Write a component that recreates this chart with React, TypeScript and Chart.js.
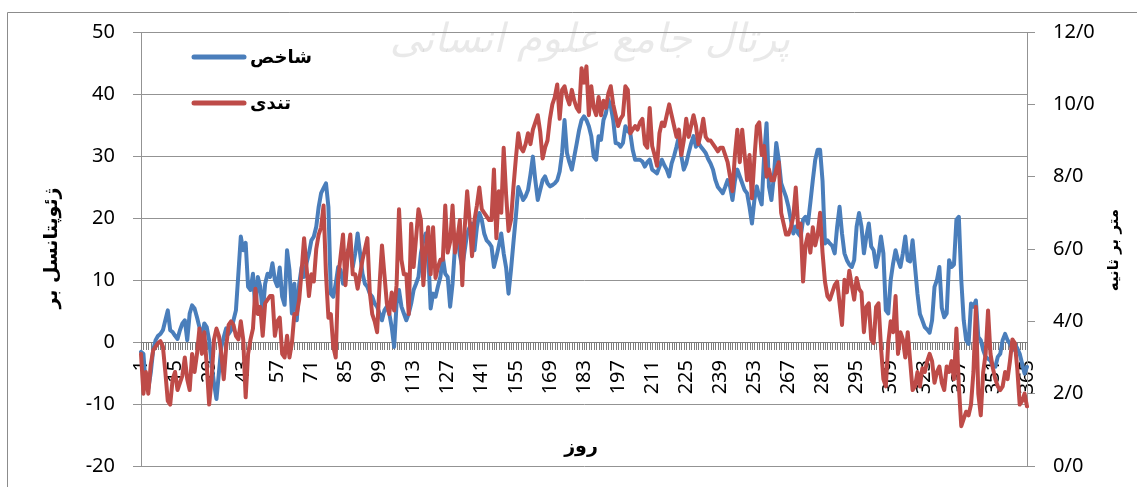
import React, { useEffect, useRef } from 'react';
import { Chart, registerables } from 'chart.js';

Chart.register(...registerables);

const W = 1137;
const H = 487;
const BLUE = '#4a7ebb';
const RED = '#be4b48';

// Category: day of year
const dayLabels: string[] = Array.from({ length: 365 }, (_, i) => String(i + 1));
// Tick labels shown on the day axis
const shownDays = [1, 15, 29, 43, 57, 71, 85, 99, 113, 127, 141, 155, 169, 183, 197, 211, 225, 239, 253, 267, 281, 295, 309, 323, 337, 351, 365];

// Series 1: شاخص (left axis)
const indexValues = [
  -1.6, -1.9, -7.3, -7.5, -5.0, -1.3, 0.3, 1.0, 1.3, 1.9,
  3.5, 5.1, 1.9, 1.6, 1.0, 0.5, 1.9, 3.0, 3.5, 0.3,
  4.6, 5.9, 5.4, 4.0, 2.4, 0.5, 3.0, 2.4, 0.3, -3.5,
  -6.7, -9.2, -5.0, -0.8, 0.8, 2.2, 1.3, 1.9, 3.5, 5.1,
  11.0, 17.0, 14.8, 16.0, 8.9, 8.4, 11.0, 5.1, 10.5, 8.9,
  4.6, 9.4, 11.0, 10.5, 12.7, 10.0, 9.0, 12.0, 7.3, 6.0,
  14.8, 11.6, 4.6, 9.4, 3.5, 9.4, 12.1, 10.5, 12.7, 14.3,
  16.4, 17.0, 18.6, 21.8, 24.0, 24.8, 25.6, 21.8, 7.8, 7.3,
  9.4, 12.1, 11.6, 9.4, 11.0, 14.8, 15.4, 12.1, 14.3, 17.5,
  14.3, 11.0, 9.4, 8.9, 7.8, 7.3, 6.2, 5.7, 4.6, 3.5,
  5.1, 5.7, 4.6, 2.4, -0.8, 6.2, 8.4, 5.7, 4.6, 3.5,
  4.6, 6.2, 8.4, 9.4, 10.5, 14.3, 16.4, 17.5, 14.3, 5.4,
  7.8, 7.3, 9.0, 10.5, 13.7, 11.0, 10.5, 5.7, 9.4, 15.4,
  17.0, 14.0, 12.1, 14.8, 17.5, 18.5, 19.1, 14.8, 18.5, 20.8,
  19.7, 17.5, 16.4, 16.0, 15.4, 12.1, 13.7, 15.5, 17.5, 14.3,
  12.0, 7.8, 11.6, 16.0, 20.2, 25.0, 24.0, 22.9, 23.5, 24.5,
  27.0, 29.9, 26.1, 22.9, 24.5, 26.1, 26.7, 25.6, 25.1, 25.3,
  25.6, 26.1, 27.5, 30.5, 35.8, 30.5, 29.0, 27.8, 29.9, 32.0,
  34.2, 35.8, 36.4, 35.8, 34.8, 33.2, 29.9, 29.4, 33.2, 32.6,
  35.8, 36.9, 39.1, 38.0, 35.8, 32.1, 32.0, 31.5, 32.1, 34.8,
  34.0, 33.7, 31.0, 29.4, 29.4, 29.4, 29.1, 28.3, 29.0, 29.4,
  27.8, 27.5, 27.2, 28.3, 29.4, 28.5, 27.8, 26.7, 28.8, 30.0,
  31.5, 33.2, 30.0, 27.8, 28.8, 30.5, 32.0, 33.2, 31.5, 32.1,
  31.5, 31.0, 30.5, 29.5, 28.8, 27.8, 26.1, 25.0, 24.5, 24.0,
  25.0, 26.1, 25.1, 22.9, 26.0, 27.8, 26.7, 25.6, 24.5, 24.0,
  21.8, 19.1, 22.9, 25.1, 23.4, 22.2, 30.0, 35.3, 25.0, 22.9,
  26.7, 32.1, 29.4, 25.6, 24.5, 23.4, 21.8, 19.7, 17.5, 18.6,
  17.5, 17.0, 19.7, 20.2, 19.1, 22.5, 26.1, 29.4, 31.0, 31.0,
  26.0, 15.9, 16.4, 15.9, 15.5, 14.3, 18.6, 21.8, 17.5, 14.3,
  13.2, 12.5, 12.1, 13.2, 18.6, 20.8, 18.6, 14.3, 17.0, 19.1,
  15.4, 14.8, 12.1, 14.0, 17.0, 14.3, 5.1, 4.6, 10.0, 12.7,
  14.8, 13.2, 12.1, 14.3, 17.0, 13.2, 13.0, 16.4, 12.1, 7.8,
  4.5, 3.5, 2.4, 2.0, 1.5, 3.5, 8.9, 10.0, 12.1, 5.5,
  4.0, 4.6, 13.2, 12.1, 12.5, 19.7, 20.2, 10.0, 3.5, 0.3,
  -0.3, 6.2, 5.7, 6.7, 0.8, 0.3, -1.3, -2.4, -2.7, -3.0,
  -4.0, -4.0, -2.4, -1.9, 0.3, 1.3, 0.3, -0.3, -1.3, -0.3,
  -1.0, -1.9, -3.5, -5.1, -4.0,
];

// Series 2: تندی (right axis, m/s)
const speedValues = [
  3.1, 2.0, 2.6, 2.0, 2.8, 3.2, 3.3, 3.4, 3.45, 3.3,
  2.6, 1.8, 1.7, 2.4, 2.6, 2.1, 2.3, 2.5, 3.0, 2.4,
  2.1, 3.1, 2.6, 3.1, 3.8, 3.1, 3.7, 2.8, 1.7, 2.4,
  3.5, 3.8, 3.6, 3.1, 2.4, 3.3, 3.9, 4.0, 3.9, 3.6,
  3.5, 4.0, 3.5, 1.9, 3.1, 3.5, 3.8, 4.9, 4.2, 4.4,
  3.6, 4.5, 4.6, 4.7, 4.7, 3.6, 4.0, 4.1, 3.1, 3.0,
  3.6, 3.0, 3.4, 4.2, 4.2, 4.6, 5.4, 6.3, 5.5, 4.7,
  5.3, 5.1, 6.0, 6.4, 6.6, 7.2, 5.3, 4.1, 4.2, 3.3,
  3.0, 5.2, 5.8, 6.4, 5.0, 5.9, 6.4, 5.3, 5.3, 4.9,
  5.3, 5.7, 6.0, 6.3, 4.8, 4.2, 4.0, 3.7, 5.0, 6.1,
  5.3, 4.5, 4.2, 4.8, 4.3, 5.0, 7.1, 5.7, 5.3, 5.3,
  4.2, 6.7, 5.5, 6.3, 7.1, 6.8, 5.0, 6.0, 6.6, 5.3,
  6.6, 5.2, 5.5, 5.7, 5.7, 7.2, 5.9, 6.2, 7.2, 5.9,
  6.3, 6.8, 5.0, 6.6, 7.6, 6.8, 5.8, 6.8, 7.2, 7.7,
  7.1, 7.0, 6.9, 6.8, 6.8, 8.2, 6.3, 7.6, 7.0, 8.8,
  7.5, 6.5, 6.8, 7.7, 8.5, 9.2, 8.8, 8.7, 8.9, 9.2,
  8.9, 9.3, 9.5, 9.7, 9.25, 8.5, 8.8, 9.0, 9.6, 10.0,
  10.2, 10.55, 9.6, 10.4, 10.5, 10.2, 10.0, 10.4, 10.1, 9.9,
  9.8, 11.0, 10.6, 11.05, 9.7, 10.5, 9.9, 9.7, 10.2, 9.7,
  10.1, 9.9, 10.3, 10.5, 10.0, 9.7, 9.4, 9.6, 9.7, 10.5,
  10.4, 9.2, 9.3, 9.4, 9.3, 9.5, 9.6, 8.9, 8.8, 9.9,
  8.85, 8.6, 8.3, 9.2, 9.5, 9.4, 9.7, 10.0, 9.7, 9.4,
  9.1, 9.3, 8.6, 9.0, 9.6, 9.1, 9.4, 9.7, 9.4, 8.9,
  9.2, 9.6, 9.1, 9.0, 9.0, 8.9, 8.8, 8.7, 8.8, 8.8,
  8.6, 8.4, 8.0, 7.6, 8.6, 9.3, 8.4, 9.3, 8.6, 7.9,
  8.6, 7.4, 8.5, 9.4, 9.5, 8.6, 8.85, 8.0, 8.2, 7.9,
  7.9, 8.2, 8.4, 7.0, 6.7, 6.4, 6.4, 6.6, 6.9, 7.7,
  6.6, 6.7, 5.1, 6.1, 6.4, 5.9, 6.6, 6.1, 6.4, 7.0,
  5.9, 5.1, 4.7, 4.6, 4.8, 5.0, 5.1, 4.5, 3.9, 5.15,
  4.8, 5.4, 5.0, 4.6, 5.2, 4.9, 4.8, 3.7, 4.4, 4.5,
  3.5, 3.4, 4.4, 4.5, 3.3, 2.4, 2.2, 3.4, 4.0, 3.7,
  4.7, 3.1, 3.7, 3.5, 3.0, 3.7, 2.9, 2.1, 2.2, 2.6,
  2.2, 2.7, 2.6, 2.9, 3.1, 2.9, 2.3, 2.6, 2.75, 2.3,
  2.1, 2.75, 2.6, 2.9, 2.4, 3.8, 2.2, 1.1, 1.3, 1.5,
  1.4, 1.7, 2.6, 4.4, 2.0, 1.4, 2.6, 3.1, 4.3, 3.1,
  2.7, 2.4, 2.2, 2.1, 2.2, 2.6, 2.4, 2.9, 3.5, 3.4,
  2.7, 1.7, 1.8, 2.0, 1.65,
];

const seriesNames = ['شاخص', 'تندی'];
const xTitle = 'روز';
const leftTitle = 'ژئوپتانسل بر';
const rightTitle = 'متر بر ثانیه';
const watermark = 'پرتال جامع علوم انسانی';

const TICK_FONT = '"Noto Sans", "DejaVu Sans", sans-serif';
const FA_FONT = '"DejaVu Sans", sans-serif';
const GRID = '#939393';
const HATCH_LEN = 8;

const decor = {
  id: 'decor',
  beforeDraw(chart: any) {
    const c = chart.ctx as CanvasRenderingContext2D;
    c.save();
    c.fillStyle = '#ffffff';
    c.fillRect(0, 0, W, H);
    // faint watermark
    c.fillStyle = 'rgba(120,120,120,0.16)';
    c.font = 'italic 40px ' + FA_FONT;
    c.textAlign = 'center';
    c.textBaseline = 'middle';
    c.fillText(watermark, 590, 42);
    // outer frame (left and top edges visible)
    c.strokeStyle = '#8c8c8c';
    c.lineWidth = 1;
    c.beginPath();
    c.moveTo(7.5, H);
    c.lineTo(7.5, 12.5);
    c.lineTo(W, 12.5);
    c.stroke();
    c.restore();
  },
  beforeDatasetsDraw(chart: any) {
    // daily tick marks of the day axis, placed by the x and y scales
    const c = chart.ctx as CanvasRenderingContext2D;
    const xs = chart.scales.x;
    const y0 = Math.round(chart.scales.y.getPixelForValue(0));
    c.save();
    c.strokeStyle = '#7d7d7d';
    c.lineWidth = 1;
    c.beginPath();
    for (let i = 0; i < dayLabels.length; i++) {
      const px = Math.round(xs.getPixelForValue(i)) + 0.5;
      c.moveTo(px, y0);
      c.lineTo(px, y0 + HATCH_LEN);
    }
    c.stroke();
    c.restore();
  },
  afterDraw(chart: any) {
    const c = chart.ctx as CanvasRenderingContext2D;
    c.save();
    // legend
    const items = [
      { y: 57, color: BLUE, text: seriesNames[0] },
      { y: 103, color: RED, text: seriesNames[1] },
    ];
    c.font = 'bold 18px ' + FA_FONT;
    c.textBaseline = 'middle';
    c.textAlign = 'left';
    for (const it of items) {
      c.strokeStyle = it.color;
      c.lineWidth = 5;
      c.lineCap = 'round';
      c.beginPath();
      c.moveTo(194, it.y);
      c.lineTo(244, it.y);
      c.stroke();
      c.fillStyle = '#000';
      c.fillText(it.text, 250, it.y + 1);
    }
    // x title
    c.font = 'bold 19px ' + FA_FONT;
    c.textAlign = 'center';
    c.fillText(xTitle, 581, 447);
    // left title
    c.save();
    c.translate(52, 248);
    c.rotate(-Math.PI / 2);
    c.font = 'bold 19px ' + FA_FONT;
    c.fillText(leftTitle, 0, 0);
    c.restore();
    // right title
    c.save();
    c.translate(1114, 250);
    c.rotate(-Math.PI / 2);
    c.font = 'bold 15px ' + FA_FONT;
    c.fillText(rightTitle, 0, 0);
    c.restore();
    c.restore();
  },
};

const noVerticalPadding = (s: any, width: number) => {
  s.width = width;
  s.paddingTop = 0;
  s.paddingBottom = 0;
};

export default function App() {
  const ref = useRef<HTMLCanvasElement>(null);
  useEffect(() => {
    const canvas = ref.current;
    if (!canvas) return;
    const chart = new Chart(canvas, {
      type: 'line',
      data: {
        labels: dayLabels,
        datasets: [
          {
            label: seriesNames[0],
            data: indexValues,
            borderColor: BLUE,
            backgroundColor: BLUE,
            borderWidth: 4,
            borderJoinStyle: 'round',
            borderCapStyle: 'round',
            pointRadius: 0,
            tension: 0,
            yAxisID: 'y',
            order: 1,
          },
          {
            label: seriesNames[1],
            data: speedValues,
            borderColor: RED,
            backgroundColor: RED,
            borderWidth: 4,
            borderJoinStyle: 'round',
            borderCapStyle: 'round',
            pointRadius: 0,
            tension: 0,
            yAxisID: 'y1',
            order: 0,
          },
        ],
      },
      options: {
        responsive: false,
        animation: false,
        devicePixelRatio: 1,
        layout: { padding: { top: 32, bottom: 21, left: 0, right: 0 } },
        plugins: { legend: { display: false }, tooltip: { enabled: false }, title: { display: false } },
        scales: {
          x: {
            type: 'category',
            position: { y: 0 } as any,
            offset: false,
            grid: { display: false, drawOnChartArea: false, drawTicks: false },
            border: { display: true, color: '#7a7a7a', width: 1 },
            ticks: {
              autoSkip: false,
              minRotation: 90,
              maxRotation: 90,
              padding: 18,
              color: '#000',
              font: { family: TICK_FONT, size: 20 },
              callback: (_v: any, i: number) => (shownDays.includes(i + 1) ? dayLabels[i] : ''),
            },
          },
          y: {
            position: 'left',
            min: -20,
            max: 50,
            grid: { color: GRID, lineWidth: 1, tickLength: 8, drawTicks: true },
            border: { display: true, color: GRID, width: 1 },
            ticks: { stepSize: 10, padding: 18, color: '#000', font: { family: TICK_FONT, size: 20 } },
            afterFit: (s: any) => noVerticalPadding(s, 141),
          },
          y1: {
            position: 'right',
            min: 0,
            max: 12,
            grid: { drawOnChartArea: false, color: GRID, tickLength: 8, drawTicks: true },
            border: { display: true, color: GRID, width: 1 },
            ticks: {
              stepSize: 2,
              padding: 18,
              color: '#000',
              font: { family: TICK_FONT, size: 20 },
              callback: (v: any) => Number(v).toFixed(1).replace('.', '/'),
            },
            afterFit: (s: any) => noVerticalPadding(s, 110),
          },
        },
      },
      plugins: [decor],
    });
    return () => chart.destroy();
  }, []);
  return (
    <div style={{ position: 'absolute', left: 0, top: 0, width: W, height: H }}>
      <canvas ref={ref} width={W} height={H} style={{ display: 'block' }} />
    </div>
  );
}
